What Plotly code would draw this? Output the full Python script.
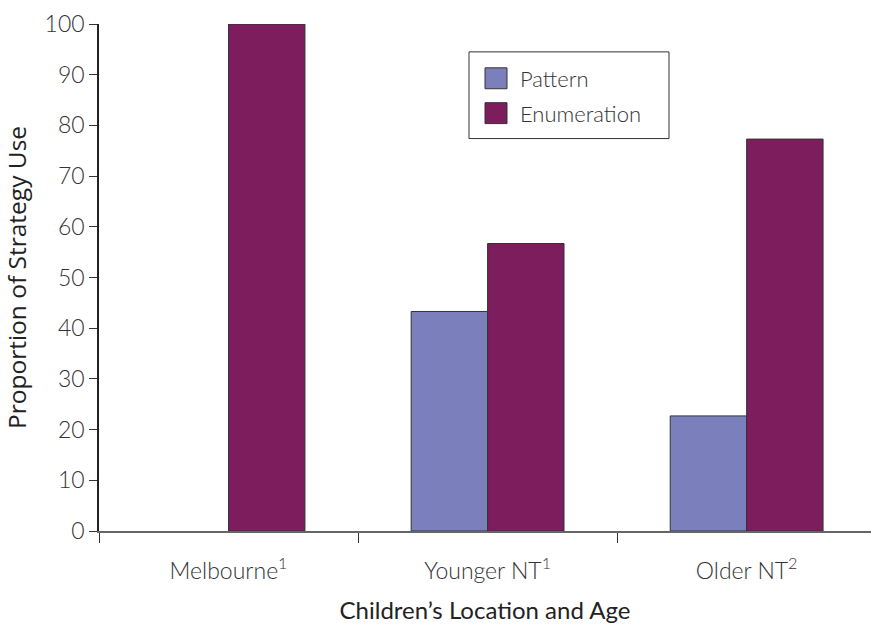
import plotly.graph_objects as go

# Children's strategy use by location and age group
categories = ["Melbourne<sup>1</sup>", "Younger NT<sup>1</sup>", "Older NT<sup>2</sup>"]
pattern = [0, 43.3, 22.7]
enumeration = [100, 56.7, 77.3]
y_ticks = [0, 10, 20, 30, 40, 50, 60, 70, 80, 90, 100]
series_names = ["Pattern", "Enumeration"]

PATTERN_COLOR = "#7b80bd"
ENUM_COLOR = "#7d1d5e"
OUTLINE = "#333333"
TEXT = "#333333"

# plot area in pixels (used to place the hand-built legend)
W, H = 871, 624
L, R, T, B = 99, 0, 24, 91
PW, PH = W - L - R, H - T - B


def px_x(x):
    return (x - L) / PW


def px_y(y):
    return (H - B - y) / PH


fig = go.Figure()
for name, values, color in [(series_names[0], pattern, PATTERN_COLOR),
                            (series_names[1], enumeration, ENUM_COLOR)]:
    fig.add_trace(go.Bar(
        name=name, x=categories, y=values,
        marker=dict(color=color,
                    line=dict(color=OUTLINE, width=[0 if v == 0 else 1 for v in values])),
        showlegend=False,
    ))

# legend: framed box with large colour swatches
shapes = [dict(type="rect", xref="paper", yref="paper",
               x0=px_x(469), x1=px_x(669), y0=px_y(139), y1=px_y(52),
               line=dict(color=OUTLINE, width=1), fillcolor="white", layer="above")]
annotations = []
for i, (name, color) in enumerate(zip(series_names, [PATTERN_COLOR, ENUM_COLOR])):
    top = 68 + i * 35
    shapes.append(dict(type="rect", xref="paper", yref="paper",
                       x0=px_x(485), x1=px_x(507), y0=px_y(top + 21), y1=px_y(top),
                       line=dict(color=OUTLINE, width=1), fillcolor=color, layer="above"))
    annotations.append(dict(xref="paper", yref="paper", x=px_x(518), y=px_y(top + 11),
                            xanchor="left", yanchor="middle", text=name, showarrow=False,
                            font=dict(size=22, family="Lato", weight=300, color=TEXT)))

fig.update_layout(
    width=W, height=H,
    margin=dict(l=L, r=R, t=T, b=B),
    barmode="group", bargap=0.41, bargroupgap=0,
    plot_bgcolor="white", paper_bgcolor="white",
    font=dict(family="Lato", color=TEXT, size=20),
    shapes=shapes, annotations=annotations,
)

fig.update_xaxes(
    type="category", range=[-0.5, 2.48],
    showline=True, linecolor="#666666", linewidth=2,
    ticks="outside", tickson="boundaries", ticklen=10, tickcolor="#333333", tickwidth=1,
    tickfont=dict(size=23, family="Lato", weight=300, color=TEXT),
    ticklabelstandoff=18,
    showgrid=False, zeroline=False,
    title=dict(text="Children’s Location and Age", standoff=24,
               font=dict(size=24, family="Lato", color="#222222")),
)
fig.update_yaxes(
    range=[0, 100], tickvals=y_ticks,
    showline=True, linecolor="#222222", linewidth=1.5,
    ticks="outside", ticklen=8, tickcolor="#333333", tickwidth=1,
    tickfont=dict(size=23, family="Lato", weight=300, color=TEXT),
    showgrid=False, zeroline=False,
    title=dict(text="Proportion of Strategy Use", standoff=14,
               font=dict(size=24.5, family="Open Sans", color="#222222")),
)

fig.write_html("out.html")
